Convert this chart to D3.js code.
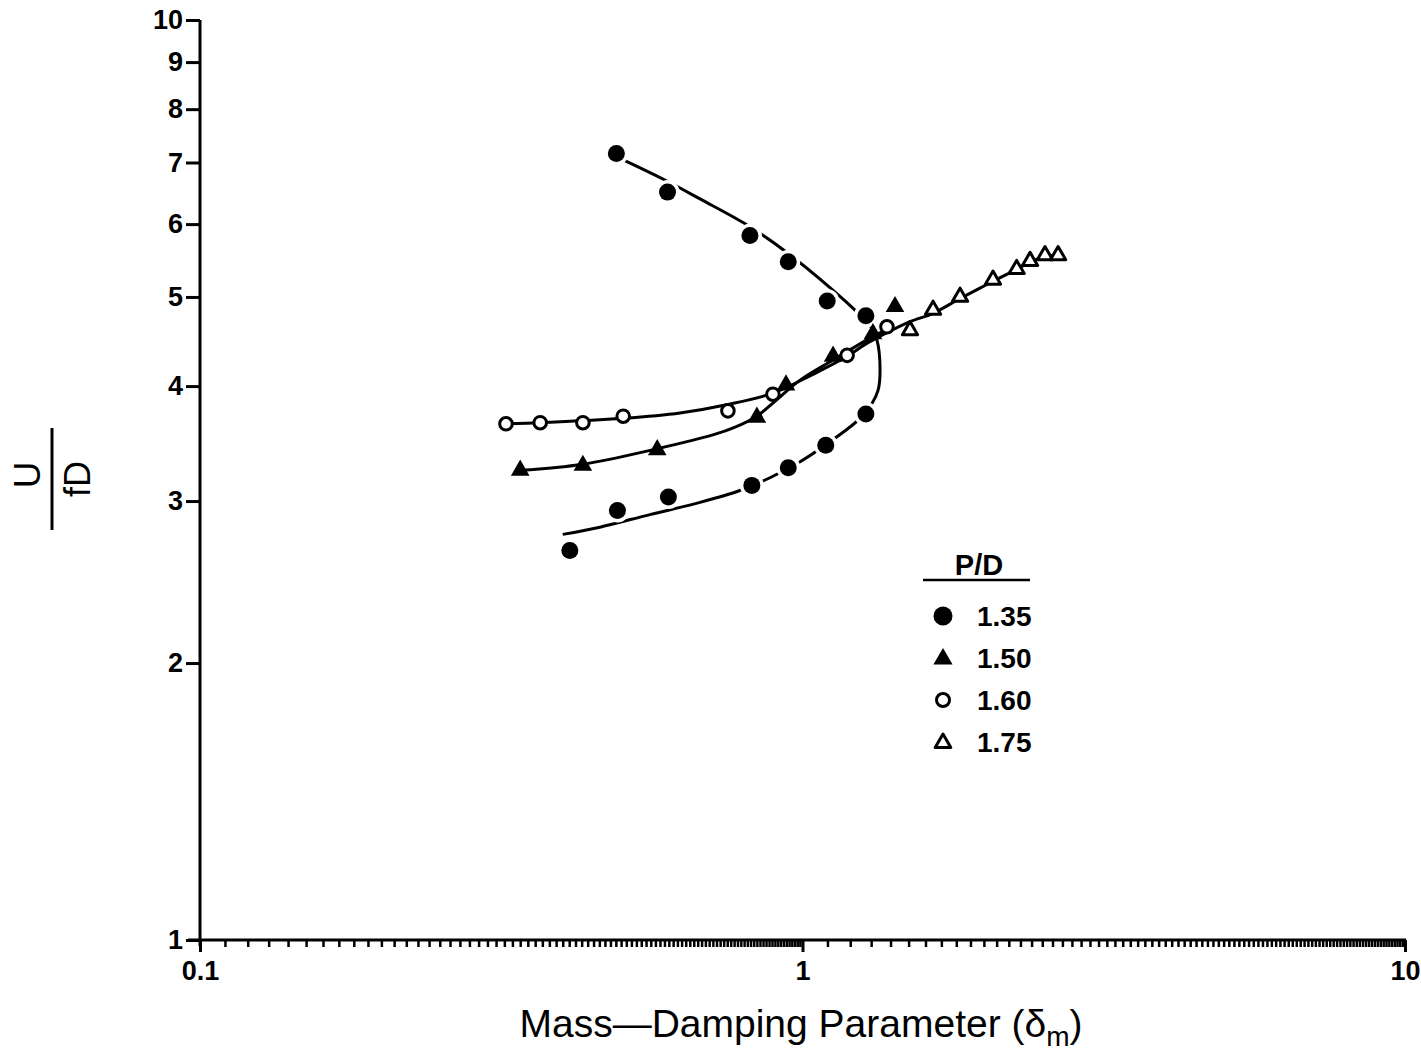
<!DOCTYPE html>
<html><head><meta charset="utf-8">
<script src="https://cdn.jsdelivr.net/npm/d3@7"></script>
<style>body{margin:0;background:#fff}svg{display:block}</style>
</head><body><svg id="c" width="1421" height="1051"></svg>
<script>
// ---- data ----
const seriesNames = ["1.35", "1.50", "1.60", "1.75"];
const pts135 = [[0.491,7.16],[0.597,6.50],[0.818,5.83],[0.947,5.46],[1.099,4.95],[1.274,4.77],
                [1.274,3.73],[1.093,3.45],[0.947,3.26],[0.824,3.12],[0.599,3.03],[0.493,2.93],[0.411,2.65]];
const pts150 = [[0.340,3.24],[0.432,3.28],[0.574,3.41],[0.840,3.70],[0.939,4.01],[1.124,4.31],[1.309,4.56],[1.424,4.88]];
const pts160 = [[0.322,3.64],[0.367,3.65],[0.432,3.65],[0.504,3.71],[0.752,3.76],[0.893,3.92],[1.186,4.32],[1.381,4.64]];
const pts175 = [[1.508,4.60],[1.647,4.84],[1.826,5.00],[2.071,5.22],[2.267,5.36],[2.386,5.47],[2.526,5.55],[2.656,5.55]];
// fitted curves
const fit135 = [[0.492,7.10],[0.591,6.70],[0.676,6.39],[0.808,5.99],[0.935,5.61],[1.118,5.10],[1.230,4.82],
                [1.294,4.66],[1.329,4.49],[1.345,4.17],[1.335,3.96],[1.304,3.83],[1.246,3.69],[1.132,3.51],
                [0.991,3.31],[0.883,3.18],[0.787,3.08],[0.676,2.99],[0.558,2.90],[0.461,2.81],[0.400,2.76]];
const fit150 = [[0.340,3.24],[0.432,3.29],[0.574,3.42],[0.710,3.54],[0.773,3.61],[0.840,3.71],[0.900,3.85],[0.991,4.06],[1.124,4.27],[1.309,4.53],[1.370,4.60]];
const fit160 = [[0.322,3.64],[0.367,3.65],[0.432,3.67],[0.504,3.69],[0.626,3.74],[0.752,3.82],[0.893,3.93],[1.041,4.12],[1.186,4.31],[1.345,4.56],[1.408,4.63]];
const fit175 = [[1.255,4.42],[1.370,4.56],[1.508,4.70],[1.647,4.80],[1.826,4.98],[2.071,5.20],[2.270,5.36],[2.386,5.46],[2.526,5.53],[2.656,5.55]];
const yTicks = [1,2,3,4,5,6,7,8,9,10];
const xMajor = [0.1,1,10];
const xMajorLabels = ["0.1","1","10"];

// ---- chart ----
const svg = d3.select("#c");
const x = d3.scaleLog().domain([0.1,10]).range([200,1405]);
const y = d3.scaleLog().domain([1,10]).range([940,20]);
const FONT = "'Liberation Sans', Arial, sans-serif";

// x minor ticks
const xMinor = d3.range(11,100).map(i=>i/100).concat(d3.range(11,100).map(i=>i/10));

const gx = svg.append("g").attr("transform","translate(0,940)");
gx.append("line").attr("x1",188).attr("x2",1406).attr("y1",0).attr("y2",0)
  .attr("stroke","#000").attr("stroke-width",3);
gx.call(g=>{
  const ax = d3.axisBottom(x).tickValues(xMinor).tickSize(7).tickSizeOuter(0).tickFormat("");
  g.append("g").call(ax).call(s=>s.select(".domain").remove())
   .selectAll("line").attr("stroke","#000").attr("stroke-width",2.5);
  const ax2 = d3.axisBottom(x).tickValues(xMajor).tickSize(12).tickSizeOuter(0)
     .tickFormat((d,i)=>xMajorLabels[i]);
  const m = g.append("g").call(ax2).call(s=>s.select(".domain").remove());
  m.selectAll("line").attr("stroke","#000").attr("stroke-width",3);
  m.selectAll("text").attr("font-family",FONT).attr("font-weight","bold").attr("font-size",27)
   .attr("fill","#000").attr("y",21).attr("dy","0.71em");
});

const gy = svg.append("g").attr("transform","translate(200,0)");
gy.append("line").attr("x1",0).attr("x2",0).attr("y1",20).attr("y2",946)
  .attr("stroke","#000").attr("stroke-width",3);
const ay = d3.axisLeft(y).tickValues(yTicks).tickFormat(d3.format("d")).tickSize(14).tickSizeOuter(0);
const gyy = gy.append("g").call(ay).call(s=>s.select(".domain").remove());
gyy.selectAll("line").attr("stroke","#000").attr("stroke-width",3);
gyy.selectAll("text").attr("font-family",FONT).attr("font-weight","bold").attr("font-size",27)
   .attr("fill","#000").attr("x",-17);

// lines
const line = d3.line().x(d=>x(d[0])).y(d=>y(d[1])).curve(d3.curveCatmullRom.alpha(0.5));
[fit135, fit150, fit160, fit175].forEach(f=>{
  svg.append("path").attr("d",line(f)).attr("fill","none").attr("stroke","#000").attr("stroke-width",3);
});

// markers
const tri = d3.symbol().type(d3.symbolTriangle);
// halo for filled circles
svg.append("g").selectAll("circle").data(pts135).join("circle")
  .attr("cx",d=>x(d[0])).attr("cy",d=>y(d[1])).attr("r",12).attr("fill","#fff");
svg.append("g").selectAll("circle").data(pts135).join("circle")
  .attr("cx",d=>x(d[0])).attr("cy",d=>y(d[1])).attr("r",8.5).attr("fill","#000");
svg.append("g").selectAll("path").data(pts150).join("path")
  .attr("transform",d=>`translate(${x(d[0])},${y(d[1])})`).attr("d",tri.size(150)()).attr("fill","#000");
svg.append("g").selectAll("circle").data(pts160).join("circle")
  .attr("cx",d=>x(d[0])).attr("cy",d=>y(d[1])).attr("r",6.3).attr("fill","#fff")
  .attr("stroke","#000").attr("stroke-width",3);
svg.append("g").selectAll("path").data(pts175).join("path")
  .attr("transform",d=>`translate(${x(d[0])},${y(d[1])})`).attr("d",tri.size(100)()).attr("fill","#fff")
  .attr("stroke","#000").attr("stroke-width",3).attr("stroke-linejoin","round");

// legend
const lg = svg.append("g");
lg.append("text").attr("x",979).attr("y",575).attr("text-anchor","middle").attr("font-family",FONT)
  .attr("font-size",29).attr("font-weight","bold").text("P/D");
lg.append("line").attr("x1",923).attr("x2",1030).attr("y1",580).attr("y2",580).attr("stroke","#000").attr("stroke-width",2.5);
const rowsY = [616, 658, 700, 742];
seriesNames.forEach((n,i)=>{
  const cy = rowsY[i];
  lg.append("text").attr("x",977).attr("y",cy+10).attr("font-family",FONT).attr("font-size",28)
    .attr("font-weight","bold").text(n);
  const mx = 943;
  if(i===0) lg.append("circle").attr("cx",mx).attr("cy",cy).attr("r",9.5).attr("fill","#000");
  if(i===1) lg.append("path").attr("transform",`translate(${mx},${cy+1})`).attr("d",tri.size(160)()).attr("fill","#000");
  if(i===2) lg.append("circle").attr("cx",mx).attr("cy",cy).attr("r",6.5).attr("fill","#fff").attr("stroke","#000").attr("stroke-width",3);
  if(i===3) lg.append("path").attr("transform",`translate(${mx},${cy+1})`).attr("d",tri.size(105)()).attr("fill","#fff")
     .attr("stroke","#000").attr("stroke-width",3).attr("stroke-linejoin","round");
});

// x title
const xt = svg.append("text").attr("x",801).attr("y",1037).attr("text-anchor","middle")
  .attr("font-family",FONT).attr("font-size",39).attr("fill","#000");
xt.append("tspan").text("Mass\u2014Damping Parameter (\u03b4");
xt.append("tspan").attr("font-size",28).attr("dy",9).text("m");
xt.append("tspan").attr("dy",-9).text(")");

// y title (fraction U / fD, rotated)
const yt = svg.append("g").attr("transform","translate(52,479) rotate(-90)");
yt.append("line").attr("x1",-51).attr("x2",51).attr("y1",0).attr("y2",0).attr("stroke","#000").attr("stroke-width",3);
yt.append("text").attr("x",4).attr("y",-12).attr("text-anchor","middle").attr("font-family",FONT)
  .attr("font-size",37).text("U");
yt.append("text").attr("x",0).attr("y",38).attr("text-anchor","middle").attr("font-family",FONT)
  .attr("font-size",36).text("fD");
</script></body></html>
